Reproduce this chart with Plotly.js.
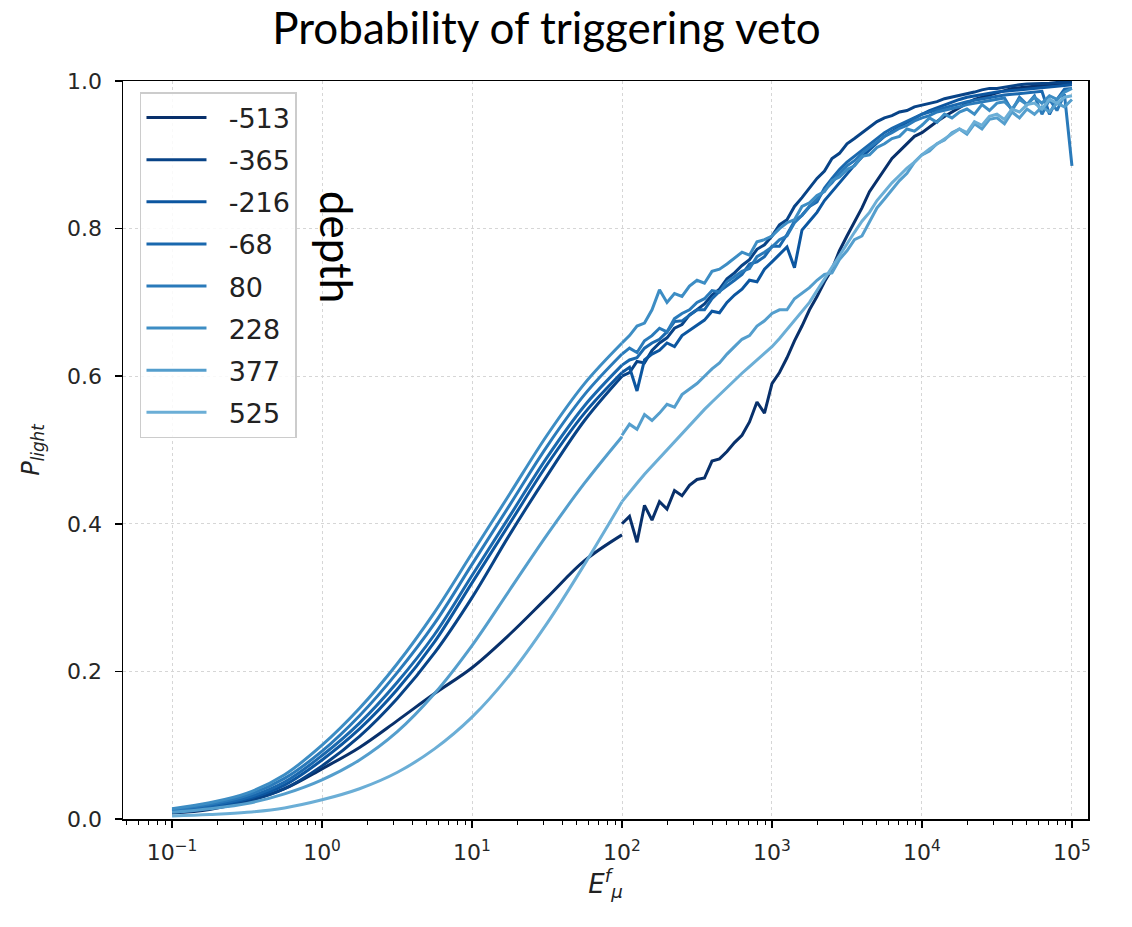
<!DOCTYPE html>
<html>
<head>
<meta charset="utf-8">
<script src="https://cdn.plot.ly/plotly-3.0.1.min.js"></script>
<style>html,body{margin:0;padding:0;background:#fff;}#chart{width:1132px;height:927px;}</style>
</head>
<body>
<div id="chart"></div>
<script>
// ---------- data ----------
const depths = ['-513', '-365', '-216', '-68', '80', '228', '377', '525'];

// smooth (fitted) part: log10(E) positions
const logE_fit = [-1, -0.75, -0.5, -0.25, 0, 0.25, 0.5, 0.75, 1, 1.25, 1.5, 1.75, 2];
const fit_m513 = [0.008, 0.013, 0.024, 0.041, 0.068, 0.097, 0.133, 0.170, 0.205, 0.250, 0.300, 0.350, 0.385];
const fit_m365 = [0.010, 0.015, 0.024, 0.041, 0.072, 0.112, 0.163, 0.225, 0.300, 0.385, 0.465, 0.540, 0.600];
const fit_m216 = [0.011, 0.017, 0.027, 0.046, 0.080, 0.122, 0.175, 0.240, 0.320, 0.400, 0.480, 0.550, 0.605];
const fit_m68  = [0.012, 0.018, 0.029, 0.050, 0.086, 0.130, 0.185, 0.250, 0.330, 0.410, 0.490, 0.560, 0.615];
const fit_80   = [0.013, 0.020, 0.032, 0.055, 0.092, 0.140, 0.198, 0.265, 0.345, 0.425, 0.505, 0.575, 0.630];
const fit_228  = [0.014, 0.022, 0.035, 0.060, 0.100, 0.150, 0.210, 0.280, 0.360, 0.440, 0.520, 0.590, 0.645];
const fit_377  = [0.009, 0.014, 0.021, 0.034, 0.053, 0.080, 0.118, 0.170, 0.235, 0.310, 0.385, 0.455, 0.518];
const fit_525  = [0.004, 0.006, 0.009, 0.015, 0.026, 0.041, 0.063, 0.095, 0.138, 0.195, 0.265, 0.345, 0.430];

// noisy (simulated) part: log10(E) positions
const logE_data = [2.00, 2.05, 2.10, 2.15, 2.20, 2.25, 2.30, 2.35, 2.40, 2.45,
                   2.50, 2.55, 2.60, 2.65, 2.70, 2.75, 2.80, 2.85, 2.90, 2.95,
                   3.00, 3.05, 3.10, 3.15, 3.20, 3.25, 3.30, 3.35, 3.40, 3.45,
                   3.50, 3.55, 3.60, 3.65, 3.70, 3.75, 3.80, 3.85, 3.90, 3.95,
                   4.00, 4.05, 4.10, 4.15, 4.20, 4.25, 4.30, 4.35, 4.40, 4.45,
                   4.50, 4.55, 4.60, 4.65, 4.70, 4.75, 4.80, 4.85, 4.90, 4.95,
                   5.00];
const data_m513 = [0.400, 0.410, 0.375, 0.425, 0.405, 0.430, 0.420, 0.445, 0.438, 0.452,
                   0.460, 0.462, 0.485, 0.488, 0.498, 0.510, 0.520, 0.538, 0.565, 0.550,
                   0.590, 0.605, 0.625, 0.648, 0.668, 0.690, 0.708, 0.728, 0.745, 0.770,
                   0.790, 0.808, 0.828, 0.850, 0.865, 0.880, 0.895, 0.905, 0.915, 0.925,
                   0.930, 0.938, 0.945, 0.952, 0.958, 0.965, 0.970, 0.975, 0.978, 0.982,
                   0.985, 0.987, 0.990, 0.991, 0.992, 0.993, 0.994, 0.995, 0.996, 0.997,
                   0.998];
const data_m365 = [0.600, 0.605, 0.620, 0.618, 0.635, 0.645, 0.652, 0.665, 0.670, 0.683,
                   0.690, 0.698, 0.710, 0.718, 0.732, 0.740, 0.750, 0.758, 0.772, 0.778,
                   0.790, 0.805, 0.812, 0.830, 0.842, 0.855, 0.868, 0.878, 0.895, 0.902,
                   0.915, 0.922, 0.930, 0.938, 0.945, 0.950, 0.953, 0.958, 0.960, 0.965,
                   0.967, 0.970, 0.972, 0.976, 0.978, 0.980, 0.983, 0.985, 0.988, 0.990,
                   0.990, 0.992, 0.994, 0.995, 0.996, 0.996, 0.997, 0.997, 0.998, 0.998,
                   0.998];
const data_m216 = [0.605, 0.612, 0.580, 0.622, 0.630, 0.635, 0.645, 0.640, 0.655, 0.662,
                   0.670, 0.676, 0.688, 0.686, 0.700, 0.710, 0.718, 0.730, 0.728, 0.745,
                   0.755, 0.765, 0.775, 0.747, 0.798, 0.810, 0.822, 0.838, 0.850, 0.863,
                   0.875, 0.886, 0.897, 0.907, 0.916, 0.925, 0.932, 0.938, 0.944, 0.950,
                   0.955, 0.960, 0.964, 0.968, 0.972, 0.975, 0.978, 0.980, 0.982, 0.984,
                   0.985, 0.986, 0.987, 0.988, 0.989, 0.990, 0.991, 0.992, 0.993, 0.994,
                   0.995];
const data_m68  = [0.615, 0.622, 0.625, 0.638, 0.645, 0.650, 0.660, 0.674, 0.675, 0.682,
                   0.690, 0.690, 0.705, 0.715, 0.722, 0.730, 0.738, 0.752, 0.755, 0.762,
                   0.776, 0.776, 0.792, 0.810, 0.818, 0.830, 0.836, 0.855, 0.868, 0.880,
                   0.890, 0.898, 0.907, 0.915, 0.922, 0.930, 0.936, 0.941, 0.946, 0.950,
                   0.955, 0.958, 0.961, 0.964, 0.967, 0.970, 0.972, 0.974, 0.976, 0.978,
                   0.980, 0.981, 0.982, 0.983, 0.984, 0.985, 0.986, 0.955, 0.975, 0.989,
                   0.990];
const data_80   = [0.630, 0.638, 0.632, 0.648, 0.655, 0.665, 0.660, 0.678, 0.685, 0.690,
                   0.700, 0.705, 0.716, 0.714, 0.728, 0.735, 0.742, 0.746, 0.762, 0.768,
                   0.775, 0.785, 0.790, 0.808, 0.818, 0.830, 0.840, 0.852, 0.862, 0.875,
                   0.885, 0.892, 0.902, 0.910, 0.918, 0.925, 0.930, 0.936, 0.940, 0.946,
                   0.950, 0.953, 0.958, 0.960, 0.963, 0.965, 0.968, 0.970, 0.972, 0.974,
                   0.975, 0.977, 0.960, 0.978, 0.968, 0.980, 0.955, 0.975, 0.960, 0.982,
                   0.885];
const data_228  = [0.645, 0.655, 0.668, 0.672, 0.690, 0.717, 0.700, 0.712, 0.708, 0.722,
                   0.730, 0.726, 0.742, 0.745, 0.752, 0.760, 0.768, 0.764, 0.782, 0.785,
                   0.790, 0.800, 0.808, 0.812, 0.830, 0.835, 0.845, 0.850, 0.865, 0.870,
                   0.880, 0.885, 0.898, 0.900, 0.910, 0.915, 0.922, 0.925, 0.935, 0.932,
                   0.940, 0.950, 0.944, 0.955, 0.950, 0.958, 0.962, 0.955, 0.968, 0.960,
                   0.970, 0.972, 0.962, 0.975, 0.968, 0.978, 0.970, 0.980, 0.975, 0.985,
                   0.990];
const data_377  = [0.520, 0.535, 0.528, 0.548, 0.540, 0.550, 0.562, 0.558, 0.575, 0.583,
                   0.590, 0.600, 0.610, 0.618, 0.630, 0.640, 0.650, 0.655, 0.668, 0.675,
                   0.685, 0.690, 0.690, 0.705, 0.712, 0.720, 0.730, 0.738, 0.740, 0.758,
                   0.770, 0.785, 0.790, 0.810, 0.828, 0.840, 0.852, 0.865, 0.875, 0.890,
                   0.900, 0.905, 0.915, 0.920, 0.930, 0.935, 0.928, 0.942, 0.935, 0.948,
                   0.950, 0.942, 0.958, 0.950, 0.962, 0.955, 0.965, 0.958, 0.970, 0.965,
                   0.975];
const data_525  = [0.430, 0.443, 0.455, 0.467, 0.478, 0.490, 0.501, 0.512, 0.523, 0.534,
                   0.545, 0.555, 0.565, 0.575, 0.585, 0.595, 0.604, 0.613, 0.622, 0.631,
                   0.640, 0.651, 0.663, 0.675, 0.688, 0.700, 0.716, 0.732, 0.748, 0.764,
                   0.780, 0.795, 0.810, 0.822, 0.838, 0.850, 0.862, 0.872, 0.882, 0.890,
                   0.900, 0.908, 0.915, 0.922, 0.928, 0.935, 0.930, 0.945, 0.940, 0.952,
                   0.955, 0.948, 0.962, 0.958, 0.968, 0.970, 0.962, 0.975, 0.970, 0.978,
                   0.980];

const fitSeries  = [fit_m513, fit_m365, fit_m216, fit_m68, fit_80, fit_228, fit_377, fit_525];
const dataSeries = [data_m513, data_m365, data_m216, data_m68, data_80, data_228, data_377, data_525];

// x tick labels
const xTickExp = [-1, 0, 1, 2, 3, 4, 5];
const xTickText = ['10<sup>\u22121</sup>', '10<sup>0</sup>', '10<sup>1</sup>', '10<sup>2</sup>', '10<sup>3</sup>', '10<sup>4</sup>', '10<sup>5</sup>'];
const yTickVals = [0, 0.2, 0.4, 0.6, 0.8, 1.0];
const yTickText = ['0.0', '0.2', '0.4', '0.6', '0.8', '1.0'];

// ---------- style ----------
const colors = ['#08306b', '#084387', '#0c56a0', '#1a68ae', '#2a7aba', '#3d8dc4', '#549ecd', '#6baed6'];
const legendPad = '\u00a0\u00a0';

const pow10 = v => Math.pow(10, v);
const traces = [];
depths.forEach((d, i) => {
  traces.push({
    x: logE_fit.map(pow10), y: fitSeries[i], type: 'scatter', mode: 'lines',
    line: {color: colors[i], width: 3, shape: 'spline', smoothing: 1},
    name: legendPad + d, legendgroup: 'g' + i, showlegend: true, hoverinfo: 'skip'
  });
  traces.push({
    x: logE_data.map(pow10), y: dataSeries[i], type: 'scatter', mode: 'lines',
    line: {color: colors[i], width: 3},
    name: d, legendgroup: 'g' + i, showlegend: false, hoverinfo: 'skip'
  });
});

const minorVals = [];
for (let k = -2; k <= 5; k++) {
  for (let m = 2; m <= 9; m++) minorVals.push(m * Math.pow(10, k));
}

const axisCommon = {
  ticks: 'outside', ticklen: 7, tickwidth: 1.5, tickcolor: '#000',
  showline: true, linecolor: '#000', linewidth: 1.5, mirror: true,
  showgrid: true, gridcolor: '#d6d6d6', gridwidth: 1, griddash: 'dot',
  zeroline: false, tickfont: {family: 'DejaVu Sans', size: 22, color: '#262626'}
};

const layout = {
  width: 1132, height: 927,
  paper_bgcolor: '#ffffff', plot_bgcolor: '#ffffff',
  margin: {l: 123, r: 44, t: 81, b: 108},
  font: {family: 'DejaVu Sans', color: '#222', size: 20},
  title: {
    text: 'Probability of triggering veto',
    font: {family: 'Lato', size: 44, color: '#000'},
    x: 0.4828, xanchor: 'center', y: 0.969, yanchor: 'middle'
  },
  showlegend: true,
  legend: {
    x: 0.0176, y: 0.985, xanchor: 'left', yanchor: 'top',
    bgcolor: 'rgba(255,255,255,0.85)', bordercolor: '#cccccc', borderwidth: 1.5,
    font: {family: 'DejaVu Sans', size: 27, color: '#222'},
    tracegroupgap: 4, itemwidth: 60
  },
  xaxis: Object.assign({}, axisCommon, {
    type: 'log', range: [-1.327, 5.107],
    tickmode: 'array', tickvals: xTickExp.map(pow10), ticktext: xTickText,
    ticklabelstandoff: 6,
    minor: {tickmode: 'array', tickvals: minorVals, ticks: 'outside', ticklen: 4, tickwidth: 1, tickcolor: '#000', showgrid: false},
    title: {text: '<i>E</i><sup><i>f</i></sup><sub><i>\u03bc</i></sub>', font: {family: 'DejaVu Sans', size: 26, color: '#222'}, standoff: 8}
  }),
  yaxis: Object.assign({}, axisCommon, {
    range: [0, 1], tickmode: 'array', tickvals: yTickVals, ticktext: yTickText,
    ticklabelstandoff: 8,
    title: {text: '<i>P</i><sub><i>light</i></sub>', font: {family: 'DejaVu Sans', size: 24, color: '#222'}, standoff: 20}
  }),
  annotations: [{
    text: 'depth', xref: 'paper', yref: 'paper', x: 0.222, y: 0.775,
    xanchor: 'center', yanchor: 'middle', textangle: 90, showarrow: false,
    font: {family: 'Lato', size: 44, color: '#000'}
  }]
};

Plotly.newPlot('chart', traces, layout, {displayModeBar: false, staticPlot: true});
</script>
</body>
</html>
